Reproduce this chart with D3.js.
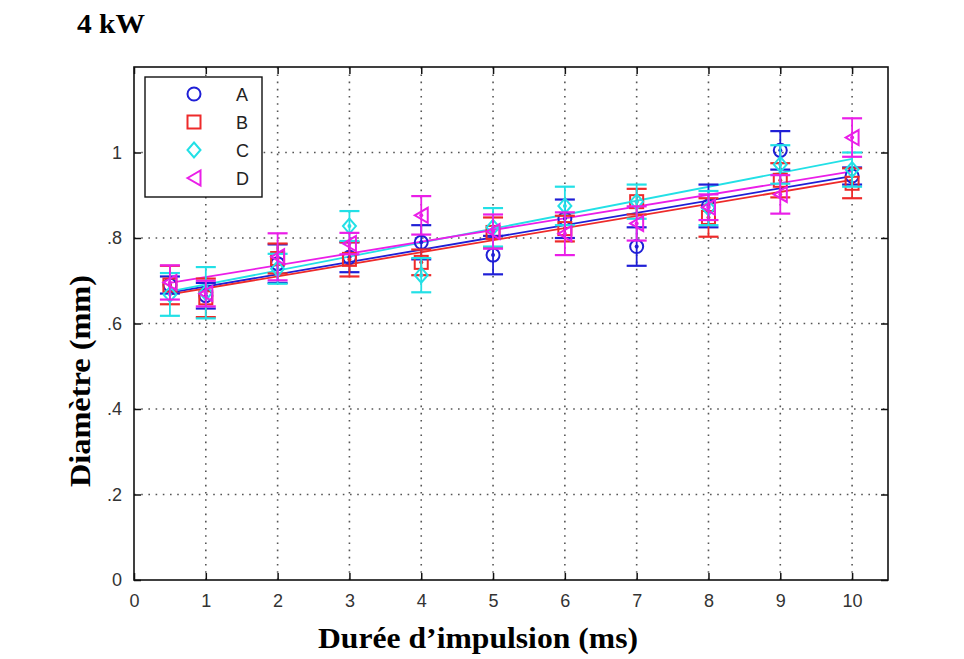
<!DOCTYPE html>
<html><head><meta charset="utf-8">
<script src="https://cdn.jsdelivr.net/npm/d3@7"></script>
<style>body{margin:0;background:#fff}</style>
</head><body>
<svg id="c" width="964" height="659"></svg>
<script>
const xValues = [0.5, 1, 2, 3, 4, 5, 6, 7, 8, 9, 10];
const seriesNames = ["A", "B", "C", "D"];
const seriesColors = ["#1f1fd6", "#ee2a2a", "#22e0e6", "#ea1ee8"];
const valuesA = [0.69, 0.665, 0.74, 0.755, 0.79, 0.76, 0.845, 0.78, 0.875, 1.005, 0.945];
const valuesB = [0.69, 0.66, 0.752, 0.75, 0.743, 0.813, 0.822, 0.885, 0.848, 0.935, 0.928];
const valuesC = [0.668, 0.672, 0.728, 0.828, 0.713, 0.825, 0.875, 0.885, 0.87, 0.972, 0.96];
const valuesD = [0.696, 0.67, 0.756, 0.787, 0.853, 0.815, 0.81, 0.834, 0.872, 0.902, 1.035];
const errA = [0.02, 0.03, 0.045, 0.035, 0.04, 0.045, 0.045, 0.045, 0.05, 0.045, 0.02];
const errB = [0.045, 0.045, 0.035, 0.04, 0.03, 0.035, 0.03, 0.03, 0.045, 0.04, 0.035];
const errC = [0.05, 0.06, 0.035, 0.035, 0.04, 0.045, 0.045, 0.04, 0.04, 0.045, 0.04];
const errD = [0.04, 0.03, 0.055, 0.025, 0.045, 0.04, 0.05, 0.04, 0.03, 0.045, 0.045];
const fitStart = [0.672, 0.668, 0.675, 0.695];
const fitEnd = [0.945, 0.936, 0.985, 0.956];
const fitRange = [0.5, 10];
const xTicks = [0,1,2,3,4,5,6,7,8,9,10];
const yTicks = [0, 0.2, 0.4, 0.6, 0.8, 1.0];
const yTickLabels = ["0", ".2", ".4", ".6", ".8", "1"];

const allValues = [valuesA, valuesB, valuesC, valuesD];
const allErr = [errA, errB, errC, errD];

const svg = d3.select("#c");
const L = 134, R = 888, T = 67, B = 580;
const x = d3.scaleLinear().domain([0, 10.5]).range([L, R]);
const y = d3.scaleLinear().domain([0, 1.2]).range([B, T]);

// grid
const grid = svg.append("g").attr("stroke", "#555").attr("stroke-width", 1.6)
  .attr("stroke-dasharray", "1.6,5.6").attr("stroke-linecap", "butt");
xTicks.filter(t => t > 0).forEach(t => grid.append("line")
  .attr("x1", x(t)).attr("x2", x(t)).attr("y1", B).attr("y2", T));
yTicks.filter(t => t > 0).forEach(t => grid.append("line")
  .attr("x1", L).attr("x2", R).attr("y1", y(t)).attr("y2", y(t)));

// axes with inward ticks
const tickFont = "Liberation Sans, Arial, sans-serif";
const xa = svg.append("g").attr("transform", `translate(0,${B})`)
  .call(d3.axisBottom(x).tickValues(xTicks).tickSize(-7).tickPadding(14));
const ya = svg.append("g").attr("transform", `translate(${L},0)`)
  .call(d3.axisLeft(y).tickValues(yTicks).tickFormat((d,i) => yTickLabels[i]).tickSize(-7).tickPadding(12));
const xt = svg.append("g").attr("transform", `translate(0,${T})`)
  .call(d3.axisTop(x).tickValues(xTicks).tickSize(-7).tickFormat(""));
const yr = svg.append("g").attr("transform", `translate(${R},0)`)
  .call(d3.axisRight(y).tickValues(yTicks).tickSize(-7).tickFormat(""));
[xa, ya, xt, yr].forEach(g => {
  g.select(".domain").remove();
  g.selectAll(".tick line").attr("stroke", "#111").attr("stroke-width", 1.5);
  g.selectAll(".tick text").attr("font-family", tickFont).attr("font-size", 18).attr("fill", "#333");
});
svg.append("rect").attr("x", L).attr("y", T).attr("width", R - L).attr("height", B - T)
  .attr("fill", "none").attr("stroke", "#111").attr("stroke-width", 1.6);

// fit lines
seriesNames.forEach((n, i) => {
  svg.append("line")
    .attr("x1", x(fitRange[0])).attr("y1", y(fitStart[i]))
    .attr("x2", x(fitRange[1])).attr("y2", y(fitEnd[i]))
    .attr("stroke", seriesColors[i]).attr("stroke-width", 1.8);
});

// markers
function marker(g, i, cx, cy, color) {
  const s = 6.5, sw = 2;
  if (i === 0) g.append("circle").attr("cx", cx).attr("cy", cy).attr("r", s).attr("fill", "none").attr("stroke", color).attr("stroke-width", sw);
  else if (i === 1) g.append("rect").attr("x", cx - s).attr("y", cy - s).attr("width", 2*s).attr("height", 2*s).attr("fill", "none").attr("stroke", color).attr("stroke-width", sw);
  else if (i === 2) g.append("path").attr("d", `M${cx},${cy-s-1}L${cx+s},${cy}L${cx},${cy+s+1}L${cx-s},${cy}Z`).attr("fill", "none").attr("stroke", color).attr("stroke-width", sw);
  else g.append("path").attr("d", `M${cx-s},${cy}L${cx+s},${cy-s-1}L${cx+s},${cy+s+1}Z`).attr("fill", "none").attr("stroke", color).attr("stroke-width", sw);
}

// error bars and markers
seriesNames.forEach((n, i) => {
  const g = svg.append("g");
  const col = seriesColors[i];
  xValues.forEach((xv, j) => {
    const v = allValues[i][j], e = allErr[i][j];
    const cx = x(xv);
    g.append("line").attr("x1", cx).attr("x2", cx).attr("y1", y(v - e)).attr("y2", y(v + e)).attr("stroke", col).attr("stroke-width", 1.8);
    [v - e, v + e].forEach(w => g.append("line").attr("x1", cx - 10).attr("x2", cx + 10).attr("y1", y(w)).attr("y2", y(w)).attr("stroke", col).attr("stroke-width", 2.2));
    marker(g, i, cx, y(v), col);
    g.append("circle").attr("cx", cx).attr("cy", y(v)).attr("r", 2).attr("fill", col);
  });
});

// legend
const lg = svg.append("g");
lg.append("rect").attr("x", 145).attr("y", 77).attr("width", 117).attr("height", 120)
  .attr("fill", "#fff").attr("stroke", "#111").attr("stroke-width", 1.4);
seriesNames.forEach((n, i) => {
  const ly = 94 + i * 28;
  marker(lg, i, 194, ly, seriesColors[i]);
  lg.append("text").attr("x", 236).attr("y", ly + 7).text(n)
    .attr("font-family", tickFont).attr("font-size", 18).attr("fill", "#222");
});

// titles
const serif = "Liberation Serif, Times New Roman, serif";
svg.append("text").attr("x", 77).attr("y", 33).text("4 kW")
  .attr("font-family", serif).attr("font-weight", "bold").attr("font-size", 27)
  .attr("textLength", 68).attr("lengthAdjust", "spacingAndGlyphs");
svg.append("text").attr("x", 318).attr("y", 648).text("Durée d’impulsion (ms)")
  .attr("font-family", serif).attr("font-weight", "bold").attr("font-size", 29)
  .attr("textLength", 320).attr("lengthAdjust", "spacingAndGlyphs");
svg.append("text").attr("transform", "translate(90,487) rotate(-90)").text("Diamètre (mm)")
  .attr("font-family", serif).attr("font-weight", "bold").attr("font-size", 29)
  .attr("textLength", 212).attr("lengthAdjust", "spacingAndGlyphs");
</script>
</body></html>
